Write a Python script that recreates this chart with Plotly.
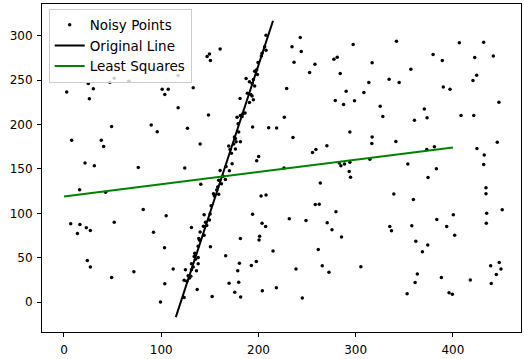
import plotly.graph_objects as go

noisy_points = [
    (117.4,255.0),(25.0,246.1),(51.7,252.1),(47.2,247.6),(66.7,248.7),(30.2,240.2),(2.8,236.6),(26.1,228.8),(132.9,241.3),(101.0,239.5),(107.2,239.5),(103.7,233.6),(117.4,218.8),
    (147.2,276.4),(149.6,279.3),(150.6,272.0),(160.6,284.9),(207.8,300.3),(206.4,287.5),(207.8,283.4),(203.7,280.1),(203.0,277.1),(199.6,269.8),(198.2,261.6),(196.1,259.8),(198.9,256.1),(187.3,251.6),(194.8,250.5),(190.7,248.0),(193.4,246.1),(196.1,243.2),(188.6,235.0),(192.0,233.6),(193.4,232.1),(194.8,227.7),(190.7,224.7),(181.1,229.2),(229.0,240.5),(234.5,287.5),(243.0,297.8),(244.0,282.0),(236.6,269.9),(258.1,267.6),(252.6,258.3),(277.6,273.4),(281.0,275.7),(297.4,290.0),(284.1,257.2),(290.2,237.3),(279.0,226.9),(287.5,222.5),(298.8,226.6),
    (341.9,293.7),(406.6,291.9),(431.6,292.6),(316.9,269.4),(379.6,278.7),(389.1,272.0),(422.4,275.3),(441.5,277.1),(356.7,262.0),(313.5,247.2),(334.4,250.9),(344.7,247.2),(308.4,235.8),(424.4,255.4),(420.6,249.5),(390.1,242.1),(397.0,239.5),(325.2,220.6),(370.6,217.3),(447.3,225.1),
    (49.0,197.8),(7.9,182.3),(38.4,182.3),(40.8,175.3),(89.7,199.3),(95.9,191.9),(127.0,195.6),(140.0,177.9),(21.6,156.5),(31.2,153.6),(76.4,151.7),(124.2,150.9),(16.1,126.5),(42.8,123.6),(140.7,132.8),(81.5,104.4),(105.1,97.4),
    (148.6,210.7),(178.0,208.1),(181.4,210.0),(183.8,211.8),(186.2,212.9),(183.2,208.9),(179.1,200.7),(179.7,191.5),(175.3,186.0),(176.3,184.1),(177.0,180.4),(181.4,180.4),(174.5,177.9),(169.4,175.7),(170.8,171.9),(176.3,172.4),(172.2,167.5),(194.0,197.1),(226.6,208.1),(210.5,196.3),(218.7,196.0),(235.5,185.2),(200.2,163.8),(198.2,159.1),(172.9,155.8),(166.7,152.8),(160.6,148.3),(170.1,148.0),(163.7,141.7),(166.0,138.0),(159.1,137.3),(161.9,133.2),(158.1,129.5),(157.1,126.2),(153.7,122.1),(154.7,119.6),(159.1,121.4),(151.3,108.5),(150.3,99.3),(202.7,119.6),(207.8,120.7),(194.0,98.9),(226.3,150.9),(255.6,168.3),(259.1,171.9),(270.4,176.0),(294.0,191.5),(283.1,156.5),(284.8,153.6),(288.5,155.4),(294.0,157.6),(293.3,147.2),(294.7,140.6),(263.6,134.0),(258.4,109.9),(262.5,110.3),(279.7,101.8),
    (327.9,208.9),(360.4,204.8),(373.4,207.4),(408.3,210.0),(421.4,210.0),(316.9,186.0),(316.6,178.6),(341.3,180.8),(445.6,180.1),(424.7,173.0),(432.2,165.7),(431.6,155.0),(380.9,174.9),(373.1,171.9),(314.6,160.9),(353.6,155.4),(383.0,150.2),(374.4,140.3),(339.2,121.8),(359.3,115.5),(434.0,128.8),(434.0,122.1),(400.4,98.5),(434.7,100.0),(450.7,104.1),
    (6.9,88.2),(16.4,87.5),(23.0,83.8),(27.1,80.8),(13.8,77.2),(51.7,90.0),(92.1,78.6),(131.1,84.1),(103.4,61.2),(24.0,46.8),(27.1,39.5),(49.0,27.7),(71.9,34.3),(112.3,37.3),(103.7,20.7),(99.3,0.3),(137.0,14.4),
    (140.0,78.9),(138.6,71.6),(139.6,69.7),(138.0,63.1),(134.5,55.0),(133.9,51.3),(135.2,48.4),(138.0,50.2),(138.0,43.2),(131.1,43.2),(132.9,39.5),(124.9,36.5),(131.1,36.5),(136.2,35.4),(127.7,29.9),(130.4,29.1),(129.1,27.3),(123.6,24.7),(126.3,23.6),(123.6,5.2),
    (144.1,98.5),(149.6,92.6),(145.5,90.0),(146.8,86.4),(143.4,85.6),(144.1,75.3),(150.6,62.3),(203.7,88.9),(207.4,85.2),(231.7,93.8),(248.9,91.9),(270.7,89.3),(275.6,81.6),(285.4,73.4),(181.4,71.6),(201.2,74.2),(200.6,70.1),(166.3,52.4),(215.0,57.6),(180.4,43.9),(197.8,45.7),(192.7,41.3),(178.7,35.4),(238.6,37.3),(261.5,59.4),(265.6,41.0),(272.5,33.6),(169.8,21.4),(179.7,22.5),(175.6,11.1),(181.7,5.9),(204.0,13.0),(218.4,16.3),(152.4,6.3),(245.1,4.8),
    (383.4,93.0),(393.6,85.2),(401.8,75.3),(434.3,88.9),(335.1,85.2),(336.8,80.5),(357.7,86.0),(361.8,68.6),(374.1,64.5),(368.6,56.8),(305.3,39.9),(363.4,31.8),(361.1,22.1),(352.9,9.6),(388.1,27.7),(417.9,25.1),(396.0,10.7),(399.4,8.9),(438.8,41.0),(447.6,44.6),(449.4,37.3),(444.6,31.3),(439.4,21.0),
]
noisy_x = [p[0] for p in noisy_points]
noisy_y = [p[1] for p in noisy_points]

original_x = [115, 215]
original_y = [-16.7, 316.7]

lsq_x = [0, 400]
lsq_y = [119, 174]

x_ticks = [0, 100, 200, 300, 400]
y_ticks = [0, 50, 100, 150, 200, 250, 300]

font = dict(family="DejaVu Sans", size=12, color="black")

fig = go.Figure()
fig.add_trace(go.Scatter(x=noisy_x, y=noisy_y, mode="markers", name="Noisy Points",
                         marker=dict(color="black", size=3.5)))
fig.add_trace(go.Scatter(x=original_x, y=original_y, mode="lines", name="Original Line",
                         line=dict(color="black", width=2)))
fig.add_trace(go.Scatter(x=lsq_x, y=lsq_y, mode="lines", name="Least Squares",
                         line=dict(color="#008000", width=2)))

axis_common = dict(showline=True, mirror=True, linecolor="black", linewidth=1,
                   ticks="outside", ticklen=4, tickcolor="black", showgrid=False,
                   zeroline=False, tickfont=font)
fig.update_xaxes(range=[-22.6, 470], tickvals=x_ticks, ticklabelstandoff=3, **axis_common)
fig.update_yaxes(range=[-33.5, 335.5], tickvals=y_ticks, ticklabelstandoff=2, **axis_common)

fig.update_layout(
    width=524, height=359,
    margin=dict(l=42, r=2, t=4, b=21),
    paper_bgcolor="white", plot_bgcolor="white",
    font=font,
    showlegend=True,
    legend=dict(x=0.014, y=0.986, xanchor="left", yanchor="top",
                bgcolor="rgba(255,255,255,0.8)", bordercolor="#cccccc", borderwidth=1,
                font=dict(family="DejaVu Sans", size=13.5, color="black"),
                itemwidth=30, tracegroupgap=0),
)

fig.write_html("out.html", config={"displayModeBar": False},
               post_script="document.body.style.margin='0';document.body.style.overflow='hidden';")
